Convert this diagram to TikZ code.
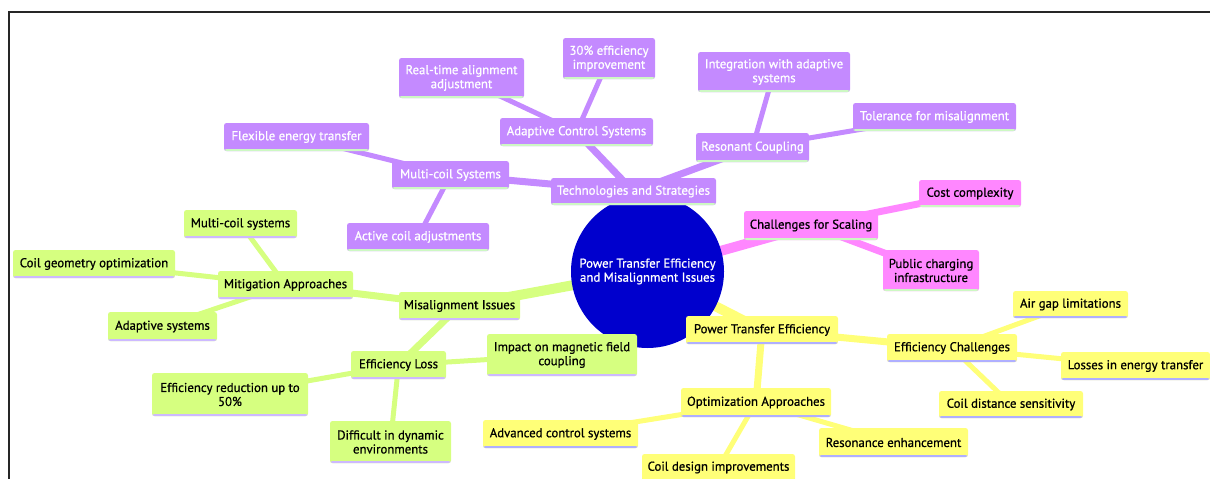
\documentclass[tikz,border=0pt]{standalone}
\usepackage{fontspec}
\setmainfont{PT Sans}[BoldFont=PT Sans, BoldFeatures={FakeBold=0.8}]
\usetikzlibrary{backgrounds}
\definecolor{cpurple}{RGB}{196,138,255}
\definecolor{cpink}{RGB}{255,135,255}
\definecolor{cyellow}{RGB}{255,255,120}
\definecolor{cgreen}{RGB}{214,255,128}
\definecolor{acgreen}{RGB}{205,248,195}
\definecolor{acblue}{RGB}{175,175,255}
\definecolor{aclav}{RGB}{205,185,255}
\definecolor{cblue}{RGB}{0,0,205}
\newcommand\mnode[7]{%
  \pgfmathsetmacro\mnCX{(#2+#3)/2}\pgfmathsetmacro\mnCY{(#4+#5)/2}%
  \pgfmathsetmacro\mnW{#3-#2}\pgfmathsetmacro\mnH{#5-#4}%
  \node[#6, minimum width=\mnW pt, minimum height=\mnH pt] (#1) at (\mnCX,\mnCY) {#7};}
\tikzset{
  mbox/.style={rounded corners=2.5pt, inner sep=0pt, align=center, font=\fontsize{12.8}{14}\bfseries},
  accent/.style={path picture={\fill[#1] ([yshift=-0.2pt]path picture bounding box.south west) rectangle ([yshift=2pt]path picture bounding box.south east);}},
  purp/.style={mbox, fill=cpurple, text=white, accent=acgreen},
  pinkn/.style={mbox, fill=cpink, text=black, accent=acgreen},
  yel/.style={mbox, fill=cyellow, text=black, accent=acblue},
  grn/.style={mbox, fill=cgreen, text=black, accent=aclav},
  e0/.style={line width=10pt},
  e1/.style={line width=7pt},
  e2/.style={line width=5pt},
}
\begin{document}
\begin{tikzpicture}[x=1pt,y=-1pt]
\useasboundingbox (0,0) rectangle (1210,479);
\draw[line width=2pt, black!85] (9,479) -- (9,12) -- (1210,12);
\node[circle, fill=cblue, minimum size=153pt, inner sep=0pt, text=white, align=center, font=\fontsize{12.8}{14}\bfseries] (root) at (647.5,271.5) {Power Transfer Efficiency\\and Misalignment Issues};
% purple
\mnode{T}{551}{716}{178}{205}{purp}{Technologies and Strategies}
\mnode{MC}{392}{509}{161}{189}{purp}{Multi-coil Systems}
\mnode{FE}{224}{369}{123}{151}{purp}{Flexible energy transfer}
\mnode{AC}{347}{489}{223}{251}{purp}{Active coil adjustments}
\mnode{ACS}{500}{653}{118}{146}{purp}{Adaptive Control Systems}
\mnode{RT}{399}{524}{58}{98}{purp}{Real-time alignment\\adjustment}
\mnode{EI}{563}{655}{38}{79}{purp}{30\% efficiency\\improvement}
\mnode{RC}{696}{809}{133}{162}{purp}{Resonant Coupling}
\mnode{IA}{698}{850}{52}{92}{purp}{Integration with adaptive\\systems}
\mnode{TM}{853}{1016}{103}{131}{purp}{Tolerance for misalignment}
% pink
\mnode{CS}{744}{878}{211}{240}{pinkn}{Challenges for Scaling}
\mnode{CC}{919}{1021}{180}{207}{pinkn}{Cost complexity}
\mnode{PC}{883}{979}{250}{291}{pinkn}{Public charging\\infrastructure}
% yellow
\mnode{PTE}{686}{838}{316}{344}{yel}{Power Transfer Efficiency}
\mnode{EC}{887}{1017}{334}{362}{yel}{Efficiency Challenges}
\mnode{AG}{1013}{1128}{291}{318}{yel}{Air gap limitations}
\mnode{LE}{1061}{1210}{352}{380}{yel}{Losses in energy transfer}
\mnode{CD}{939}{1083}{391}{418}{yel}{Coil distance sensitivity}
\mnode{OA}{681}{831}{388}{417}{yel}{Optimization Approaches}
\mnode{AD}{483}{638}{420}{448}{yel}{Advanced control systems}
\mnode{CDI}{642}{795}{454}{481}{yel}{Coil design improvements}
\mnode{RE}{819}{968}{428}{457}{yel}{Resonance enhancement}
% green
\mnode{MI}{399}{520}{292}{320}{grn}{Misalignment Issues}
\mnode{MA}{218}{353}{271}{299}{grn}{Mitigation Approaches}
\mnode{MS}{184}{297}{210}{238}{grn}{Multi-coil systems}
\mnode{CG}{13}{175}{250}{278}{grn}{Coil geometry optimization}
\mnode{AS}{108}{217}{312}{341}{grn}{Adaptive systems}
\mnode{EL}{351}{446}{351}{379}{grn}{Efficiency Loss}
\mnode{IM}{487}{637}{334}{376}{grn}{Impact on magnetic field\\coupling}
\mnode{ER}{152}{308}{373}{416}{grn}{Efficiency reduction up to\\50\%}
\mnode{DD}{330}{451}{421}{463}{grn}{Difficult in dynamic\\environments}
\begin{pgfonlayer}{background}
\begin{scope}[draw=cpurple]
\draw[e0] (root.center) -- (T.center);
\draw[e1] (T.center) -- (MC.center);
\draw[e1] (T.center) -- (ACS.center);
\draw[e1] (T.center) -- (RC.center);
\draw[e2] (MC.center) -- (FE.center);
\draw[e2] (MC.center) -- (AC.center);
\draw[e2] (ACS.center) -- (RT.center);
\draw[e2] (ACS.center) -- (EI.center);
\draw[e2] (RC.center) -- (IA.center);
\draw[e2] (RC.center) -- (TM.center);
\end{scope}
\begin{scope}[draw=cpink]
\draw[e0] (root.center) -- (CS.center);
\draw[e1] (CS.center) -- (CC.center);
\draw[e1] (CS.center) -- (PC.center);
\end{scope}
\begin{scope}[draw=cyellow]
\draw[e0] (root.center) -- (PTE.center);
\draw[e1] (PTE.center) -- (EC.center);
\draw[e1] (PTE.center) -- (OA.center);
\draw[e2] (EC.center) -- (AG.center);
\draw[e2] (EC.center) -- (LE.center);
\draw[e2] (EC.center) -- (CD.center);
\draw[e2] (OA.center) -- (AD.center);
\draw[e2] (OA.center) -- (CDI.center);
\draw[e2] (OA.center) -- (RE.center);
\end{scope}
\begin{scope}[draw=cgreen]
\draw[e0] (root.center) -- (MI.center);
\draw[e1] (MI.center) -- (MA.center);
\draw[e1] (MI.center) -- (EL.center);
\draw[e2] (MA.center) -- (MS.center);
\draw[e2] (MA.center) -- (CG.center);
\draw[e2] (MA.center) -- (AS.center);
\draw[e2] (EL.center) -- (IM.center);
\draw[e2] (EL.center) -- (ER.center);
\draw[e2] (EL.center) -- (DD.center);
\end{scope}
\end{pgfonlayer}
\end{tikzpicture}
\end{document}
